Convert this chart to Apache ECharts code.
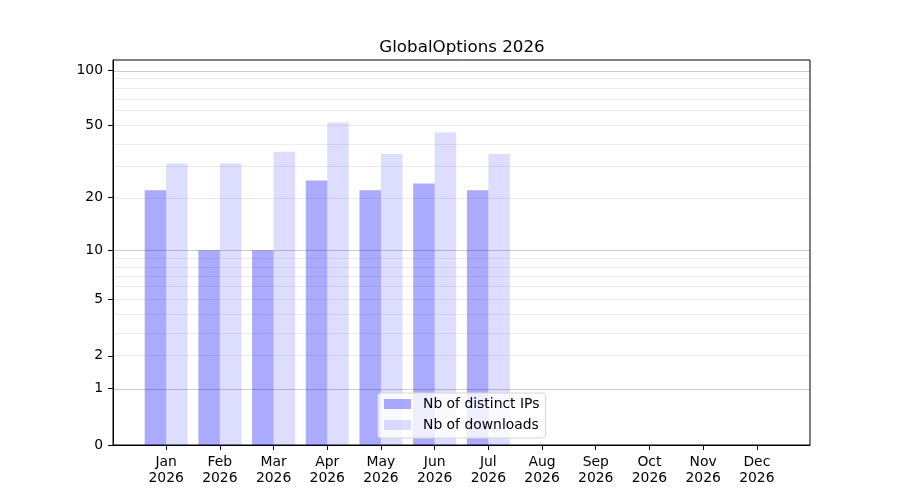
<!DOCTYPE html>
<html>
<head>
<meta charset="utf-8">
<script src="https://cdn.jsdelivr.net/npm/echarts@6/dist/echarts.min.js"></script>
<style>
  html, body { margin: 0; padding: 0; background: #fff; }
  #chart { width: 900px; height: 500px; }
</style>
</head>
<body>
<div id="chart"></div>
<script>
// 数据
const months = ['Jan', 'Feb', 'Mar', 'Apr', 'May', 'Jun', 'Jul', 'Aug', 'Sep', 'Oct', 'Nov', 'Dec'];
const year = '2026';
const distinctIPs = [22, 10, 10, 25, 22, 24, 22];
const downloads = [31, 31, 36, 52, 35, 46, 35];
const yTicks = [0, 1, 2, 5, 10, 20, 50, 100];
const majorGrid = [1, 10, 100];
const minorGrid = [2, 3, 4, 5, 6, 7, 8, 9, 20, 30, 40, 50, 60, 70, 80, 90];
const yTop = 113.5;

// y轴是 log10(x+1) 的刻度
function tf(v) {
    return Math.log10(v + 1);
}

const font = 'DejaVu Sans';
let chart = echarts.init(document.getElementById('chart'));

let gridLines = majorGrid.map(function(v){
    return { yAxis: tf(v), lineStyle: { color: 'rgba(0,0,0,0.2)', width: 1, type: 'solid' } };
}).concat(minorGrid.map(function(v){
    return { yAxis: tf(v), lineStyle: { color: 'rgba(0,0,0,0.075)', width: 1, type: 'solid' } };
}));

chart.setOption({
    animation: false,
    title: {
        text: 'GlobalOptions ' + year,
        left: 457,
        textAlign: 'center',
        top: 34,
        textStyle: { fontFamily: font, fontSize: 16.7, fontWeight: 'normal', color: '#000' }
    },
    grid: {
        left: 113, right: 90, top: 60, bottom: 55,
        show: true, borderColor: '#000', borderWidth: 1, backgroundColor: 'transparent'
    },
    legend: {
        orient: 'vertical',
        left: 378,
        top: 393,
        icon: 'rect',
        itemWidth: 27,
        itemHeight: 10,
        itemGap: 7,
        padding: [4, 6, 6, 6],
        backgroundColor: 'rgba(255,255,255,0.8)',
        borderColor: '#d6d6d6',
        borderWidth: 1,
        borderRadius: 3,
        textStyle: { fontFamily: font, fontSize: 13.9, color: '#000', lineHeight: 14, padding: [0, 0, 0, 7] },
        data: ['Nb of distinct IPs', 'Nb of downloads']
    },
    xAxis: {
        type: 'value',
        min: -0.99,
        max: 11.99,
        axisLine: { show: true, onZero: false, lineStyle: { color: '#000', width: 1 } },
        axisTick: { show: true, length: 5, lineStyle: { color: '#000' }, customValues: months.map(function(m, i){ return i; }) },
        axisLabel: {
            customValues: months.map(function(m, i){ return i; }),
            formatter: function(v){ return months[Math.round(v)] + '\n' + year; },
            fontFamily: font, fontSize: 13.9, color: '#000', lineHeight: 16.5, margin: 9
        },
        splitLine: { show: false }
    },
    yAxis: {
        type: 'value',
        min: 0,
        max: tf(yTop),
        axisLine: { show: true, onZero: false, lineStyle: { color: '#000', width: 1 } },
        axisTick: { show: true, length: 5, lineStyle: { color: '#000' }, customValues: yTicks.map(tf) },
        axisLabel: {
            customValues: yTicks.map(tf),
            formatter: function(v){ return String(Math.round(Math.pow(10, v) - 1)); },
            fontFamily: font, fontSize: 13.9, color: '#000', margin: 10
        },
        splitLine: { show: false }
    },
    series: [
        {
            name: 'Nb of distinct IPs',
            type: 'bar',
            barWidth: '40%',
            barGap: '0%',
            itemStyle: { color: 'rgba(0,0,255,0.333)' },
            data: distinctIPs.map(function(v, i){ return [i, tf(v)]; }),
            markLine: {
                silent: true,
                symbol: ['none', 'none'],
                label: { show: false },
                data: gridLines
            }
        },
        {
            name: 'Nb of downloads',
            type: 'bar',
            barWidth: '40%',
            barGap: '0%',
            itemStyle: { color: 'rgba(0,0,255,0.133)' },
            data: downloads.map(function(v, i){ return [i, tf(v)]; })
        }
    ]
});
</script>
</body>
</html>
